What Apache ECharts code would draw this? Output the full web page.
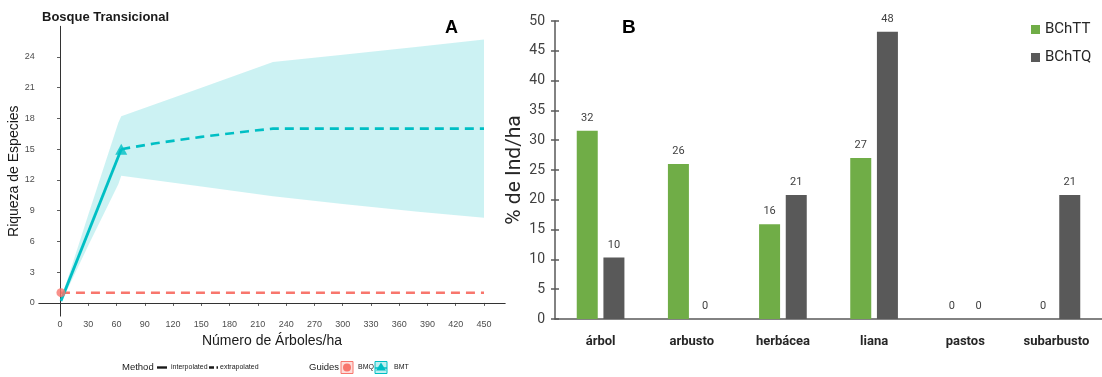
<!DOCTYPE html>
<html>
<head>
<meta charset="utf-8">
<script src="https://cdn.jsdelivr.net/npm/echarts@6/dist/echarts.min.js"></script>
<style>
  html, body { margin: 0; padding: 0; background: #fff; }
  #chart { width: 1102px; height: 377px; }
</style>
</head>
<body>
<div id="chart"></div>
<script>
// ---- Panel A: species accumulation (Bosque Transicional) ----
const xTicksA = [0, 30, 60, 90, 120, 150, 180, 210, 240, 270, 300, 330, 360, 390, 420, 450];
const yTicksA = [0, 3, 6, 9, 12, 15, 18, 21, 24];

// BMQ: single observed point and its extrapolation
const bmqObserved = [[1, 1]];
const bmqExtrapolated = [[1, 1], [450, 1]];

// BMT: interpolated and extrapolated richness
const bmtInterpolated = [[1, 0.2], [65, 15]];
const bmtExtrapolated = [[65, 15], [100, 15.55], [150, 16.2], [200, 16.75], [226, 17], [300, 17], [450, 17]];
const bmtObserved = [[65, 15]];

// BMT confidence band
const bmtBandX  = [1,   30,  62,   65,   150,  226,  300,  380,  450];
const bmtBandLo = [0,   5.6, 11.6, 12.4, 11.35, 10.4, 9.65, 8.9, 8.3];
const bmtBandHi = [0.3, 8.6, 17.6, 18.2, 21.0, 23.5, 24.2, 25.0, 25.7];

// ---- Panel B: % de Ind/ha by life form ----
const lifeForms = ['árbol', 'arbusto', 'herbácea', 'liana', 'pastos', 'subarbusto'];
const bchtt = [31.6, 26.0, 15.9, 27.0, 0, 0];
const bchtq = [10.3, 0, 20.8, 48.2, 0, 20.8];

const RED = '#F8766D';
const TEAL = '#00BFC4';
const GREEN = '#70AD47';
const GREY = '#595959';
const fontA = '"Liberation Sans", Arial, sans-serif';
const fontB = 'Roboto, "Liberation Sans", sans-serif';

const bandRows = bmtBandX.map((x, i) => [x, bmtBandLo[i], bmtBandHi[i]]);

const chart = echarts.init(document.getElementById('chart'), null, { renderer: 'canvas' });

const axisA = {
  axisLine: { show: true, lineStyle: { color: '#333', width: 1 } },
  splitLine: { show: false }
};

const option = {
  backgroundColor: '#fff',
  animation: false,
  title: [
    { text: 'Bosque Transicional', left: 37, top: 6,
      textStyle: { fontFamily: fontA, fontSize: 13, fontWeight: 'bold', color: '#1a1a1a' } },
    { text: 'A', left: 440, top: 14,
      textStyle: { fontFamily: fontA, fontSize: 18, fontWeight: 'bold', color: '#000' } },
    { text: 'B', left: 617, top: 13,
      textStyle: { fontFamily: fontA, fontSize: 19, fontWeight: 'bold', color: '#000' } }
  ],
  legend: {
    data: ['BChTT', 'BChTQ'],
    orient: 'vertical',
    left: 1026, top: 17,
    itemWidth: 9, itemHeight: 9, itemGap: 13,
    icon: 'rect',
    textStyle: { fontFamily: fontB, fontSize: 15, color: '#262626' }
  },
  grid: [
    { left: 38.8, top: 26.3, width: 466.4, height: 289.8 },
    { left: 555, top: 21, width: 552, height: 298 }
  ],
  xAxis: [
    Object.assign({}, axisA, {
      type: 'value', gridIndex: 0, min: -22.5, max: 472.5,
      name: 'Número de Árboles/ha', nameLocation: 'middle', nameGap: 14,
      nameTextStyle: { fontFamily: fontA, fontSize: 14, color: '#1a1a1a' },
      axisTick: { show: true, length: 3, customValues: xTicksA, lineStyle: { color: '#333', width: 0.8 } },
      axisLabel: { customValues: xTicksA, fontFamily: fontA, fontSize: 9, color: '#4d4d4d', margin: 4 }
    }),
    {
      type: 'category', gridIndex: 1, data: lifeForms,
      axisLine: { show: true, lineStyle: { color: GREY, width: 1.5 } },
      axisTick: { show: false },
      axisLabel: { fontFamily: fontB, fontSize: 13, fontWeight: 'bold', color: '#262626', margin: 16 }
    }
  ],
  yAxis: [
    Object.assign({}, axisA, {
      type: 'value', gridIndex: 0, min: -1.285, max: 26.985,
      name: 'Riqueza de Especies', nameLocation: 'middle', nameGap: 17,
      nameTextStyle: { fontFamily: fontA, fontSize: 14, color: '#1a1a1a' },
      axisTick: { show: true, length: 3, customValues: yTicksA, lineStyle: { color: '#333', width: 0.8 } },
      axisLabel: { customValues: yTicksA, fontFamily: fontA, fontSize: 9, color: '#4d4d4d', margin: 4 }
    }),
    {
      type: 'value', gridIndex: 1, position: 'left', min: 0, max: 50, interval: 5,
      name: '% de Ind/ha', nameLocation: 'middle', nameGap: 24,
      nameTextStyle: { fontFamily: fontB, fontSize: 21, color: '#262626' },
      axisLine: { show: true, lineStyle: { color: GREY, width: 1.5 } },
      axisTick: { show: true, length: 4, lineStyle: { color: GREY, width: 1.5 } },
      axisLabel: { fontFamily: fontB, fontSize: 14, color: '#404040', margin: 10 },
      splitLine: { show: false }
    },
    {
      // inner half of the cross-shaped ticks on the bar panel
      type: 'value', gridIndex: 1, position: 'left', offset: 0, min: 0, max: 50, interval: 5,
      axisLine: { show: false },
      axisTick: { show: true, inside: true, length: 4, lineStyle: { color: GREY, width: 1.5 } },
      axisLabel: { show: false },
      splitLine: { show: false }
    }
  ],
  series: [
    {
      name: 'BMT band', type: 'custom', xAxisIndex: 0, yAxisIndex: 0,
      data: bandRows, encode: { x: 0, y: [1, 2] }, silent: true, z: 1,
      renderItem: (params, api) => {
        if (params.dataIndex !== 0) return null;
        const pts = [];
        bandRows.forEach(r => pts.push(api.coord([r[0], r[2]])));
        for (let i = bandRows.length - 1; i >= 0; i--) pts.push(api.coord([bandRows[i][0], bandRows[i][1]]));
        return { type: 'polygon', shape: { points: pts }, style: { fill: 'rgba(0,191,196,0.2)' } };
      }
    },
    {
      name: 'BMQ extrapolated', type: 'line', xAxisIndex: 0, yAxisIndex: 0,
      data: bmqExtrapolated, showSymbol: false, z: 3,
      lineStyle: { color: RED, width: 2.6, type: [9, 6] }
    },
    {
      name: 'BMT interpolated', type: 'line', xAxisIndex: 0, yAxisIndex: 0,
      data: bmtInterpolated, showSymbol: false, z: 3,
      lineStyle: { color: TEAL, width: 2.8 }
    },
    {
      name: 'BMT extrapolated', type: 'line', xAxisIndex: 0, yAxisIndex: 0,
      data: bmtExtrapolated, showSymbol: false, z: 3,
      lineStyle: { color: TEAL, width: 2.6, type: [9, 6] }
    },
    {
      name: 'BMQ', type: 'scatter', xAxisIndex: 0, yAxisIndex: 0,
      data: bmqObserved, symbol: 'circle', symbolSize: 9, z: 4,
      itemStyle: { color: RED }
    },
    {
      name: 'BMT', type: 'scatter', xAxisIndex: 0, yAxisIndex: 0,
      data: bmtObserved, symbol: 'triangle', symbolSize: [12, 11], z: 4,
      itemStyle: { color: TEAL }
    },
    {
      name: 'BChTT', type: 'bar', xAxisIndex: 1, yAxisIndex: 1,
      data: bchtt, barWidth: 21, barGap: '27%',
      itemStyle: { color: GREEN },
      label: { show: true, position: 'top', distance: 7, formatter: p => Math.round(p.value),
               fontFamily: fontB, fontSize: 11, color: '#404040' }
    },
    {
      name: 'BChTQ', type: 'bar', xAxisIndex: 1, yAxisIndex: 1,
      data: bchtq, barWidth: 21, barGap: '27%',
      itemStyle: { color: GREY },
      label: { show: true, position: 'top', distance: 7, formatter: p => Math.round(p.value),
               fontFamily: fontB, fontSize: 11, color: '#404040' }
    }
  ],
  graphic: [
    // Panel A key: Method / Guides
    { type: 'text', left: 122, top: 362, style: { text: 'Method', font: '9.5px ' + fontA, fill: '#1a1a1a' } },
    { type: 'line', shape: { x1: 157, y1: 367.5, x2: 167, y2: 367.5 }, style: { stroke: '#1a1a1a', lineWidth: 2.4 } },
    { type: 'text', left: 171, top: 363.5, style: { text: 'interpolated', font: '7px ' + fontA, fill: '#1a1a1a' } },
    { type: 'line', shape: { x1: 209, y1: 367.5, x2: 218, y2: 367.5 }, style: { stroke: '#1a1a1a', lineWidth: 2.4, lineDash: [5, 2.5] } },
    { type: 'text', left: 220, top: 363.5, style: { text: 'extrapolated', font: '7px ' + fontA, fill: '#1a1a1a' } },
    { type: 'text', left: 309, top: 362, style: { text: 'Guides', font: '9.5px ' + fontA, fill: '#1a1a1a' } },
    { type: 'rect', shape: { x: 341, y: 361.5, width: 12, height: 12 }, style: { fill: 'rgba(248,118,109,0.25)', stroke: RED, lineWidth: 1 } },
    { type: 'circle', shape: { cx: 347, cy: 367.5, r: 4 }, style: { fill: RED } },
    { type: 'text', left: 358, top: 363.5, style: { text: 'BMQ', font: '7px ' + fontA, fill: '#1a1a1a' } },
    { type: 'rect', shape: { x: 375, y: 361.5, width: 12, height: 12 }, style: { fill: 'rgba(0,191,196,0.25)', stroke: TEAL, lineWidth: 1 } },
    { type: 'polygon', shape: { points: [[381, 362.5], [386, 370.5], [376, 370.5]] }, style: { fill: TEAL } },
    { type: 'line', shape: { x1: 375, y1: 368, x2: 387, y2: 368 }, style: { stroke: TEAL, lineWidth: 1.5 } },
    { type: 'text', left: 394, top: 363.5, style: { text: 'BMT', font: '7px ' + fontA, fill: '#1a1a1a' } }
  ]
};

chart.setOption(option);
</script>
</body>
</html>
